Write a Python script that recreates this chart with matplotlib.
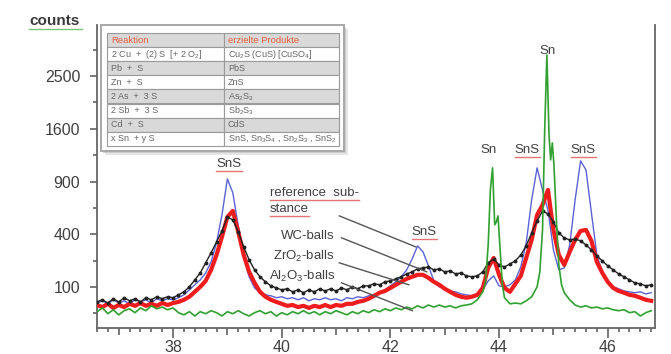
import numpy as np
import matplotlib
matplotlib.use("Agg")
import matplotlib.pyplot as plt
from matplotlib.patches import Rectangle
from matplotlib.ticker import FixedLocator

plt.rcParams['font.family'] = ['Liberation Sans', 'DejaVu Sans']
plt.rcParams['mathtext.default'] = 'regular'

# 2-theta scan grid (deg), shared by the three broad patterns
two_theta = np.round(np.arange(36.6, 46.85, 0.1), 2)

# counts (sqrt axis)
wc_balls = [51, 57, 48, 60,
            51, 63, 54, 60, 51, 63, 57, 66, 60, 66,
            63, 72, 82, 100, 128, 160, 212, 271, 344, 425,
            542, 516, 418, 309, 229, 175, 142, 120, 104, 96,
            89, 93, 82, 89, 79, 89, 82, 93, 85, 93,
            85, 96, 89, 100, 93, 104, 104, 112, 108, 120,
            124, 133, 142, 155, 165, 180, 185, 190, 175, 180,
            165, 170, 155, 160, 146, 142, 146, 165, 212, 234,
            201, 190, 206, 223, 258, 316, 410, 507, 596, 569,
            499, 410, 372, 358, 365, 351, 323, 290, 252, 223,
            196, 175, 155, 142, 128, 116, 112, 104, 108]

reference = [48, 54, 46, 57,
             48, 54, 46, 57, 51, 57, 48, 60, 54, 60,
             57, 63, 72, 89, 108, 128, 160, 217, 337, 560,
             930, 775, 465, 246, 142, 96, 79, 72, 69, 63,
             66, 60, 63, 57, 63, 54, 60, 57, 63, 57,
             60, 54, 63, 60, 66, 63, 69, 72, 79, 89,
             104, 120, 142, 175, 234, 316, 277, 196, 124, 100,
             93, 85, 82, 75, 72, 69, 75, 89, 124, 146,
             104, 100, 108, 128, 190, 337, 703, 1062, 807, 606,
             290, 175, 185, 323, 703, 1150, 1037, 578, 258, 165,
             120, 100, 93, 85, 82, 79, 82, 75, 79]

zro2_balls = [43, 38, 46, 36,
              43, 38, 46, 41, 48, 41, 46, 41, 48, 43,
              48, 51, 57, 66, 82, 100, 124, 175, 258, 380,
              542, 596, 418, 258, 165, 116, 82, 66, 57, 51,
              46, 41, 43, 38, 41, 36, 41, 38, 43, 38,
              43, 41, 46, 46, 51, 54, 60, 69, 79, 85,
              96, 108, 120, 133, 142, 151, 151, 137, 120, 108,
              93, 82, 72, 66, 63, 66, 72, 96, 185, 240,
              151, 96, 82, 112, 146, 240, 358, 560, 653, 807,
              433, 258, 201, 277, 358, 425, 433, 351, 217, 160,
              120, 96, 85, 79, 72, 69, 63, 57, 54]

# Al2O3 pattern has sharp Sn lines, so it gets its own finer grid near them
al2o3_theta = [36.6, 36.7, 36.8, 36.9,
               37.0, 37.1, 37.2, 37.3, 37.4, 37.5, 37.6, 37.7, 37.8, 37.9,
               38.0, 38.1, 38.2, 38.3, 38.4, 38.5, 38.6, 38.7, 38.8, 38.9,
               39.0, 39.1, 39.2, 39.3, 39.4, 39.5, 39.6, 39.7, 39.8, 39.9,
               40.0, 40.1, 40.2, 40.3, 40.4, 40.5, 40.6, 40.7, 40.8, 40.9,
               41.0, 41.1, 41.2, 41.3, 41.4, 41.5, 41.6, 41.7, 41.8, 41.9,
               42.0, 42.1, 42.2, 42.3, 42.4, 42.5, 42.6, 42.7, 42.8, 42.9,
               43.0, 43.1, 43.2, 43.3, 43.4, 43.5, 43.6, 43.7, 43.75, 43.8,
               43.84, 43.88, 43.92, 43.95, 43.98, 44.02, 44.06, 44.1, 44.2,
               44.3, 44.4, 44.5, 44.6, 44.7, 44.75, 44.8, 44.84, 44.88, 44.92,
               44.95, 44.98, 45.01, 45.06, 45.1, 45.15, 45.2, 45.3, 45.4, 45.5,
               45.6, 45.7, 45.8, 45.9, 46.0, 46.1, 46.2, 46.3, 46.4, 46.5,
               46.6, 46.7, 46.8]
al2o3_balls = [28, 36, 24, 32,
               22, 30, 34, 26, 36, 30, 41, 34, 38, 32,
               36, 26, 22, 28, 20, 28, 24, 30, 26, 20,
               28, 24, 30, 24, 20, 26, 30, 24, 28, 20,
               26, 22, 28, 24, 30, 24, 28, 22, 28, 24,
               30, 26, 22, 28, 24, 30, 26, 32, 28, 34,
               30, 36, 32, 38, 34, 41, 36, 43, 38, 43,
               38, 41, 36, 41, 43, 46, 57, 82, 116, 323,
               807, 1062, 474, 499, 551, 290, 108, 63, 46,
               48, 46, 54, 66, 100, 165, 433, 1583, 2918, 1500,
               1163, 1393, 1099, 474, 201, 108, 79, 57, 43, 38,
               41, 36, 38, 34, 36, 32, 30, 32, 26, 28,
               20, 26, 30]

y_major = [100, 400, 900, 1600, 2500]
y_minor = [25, 225, 625, 1225, 2025, 3025]
x_major = [37, 38, 39, 40, 41, 42, 43, 44, 45, 46]

reactions = ["2 Cu  +  (2) S  [+ 2 O$_2$]", "Pb  +  S", "Zn  +  S",
             "2 As  +  3 S", "2 Sb  +  3 S", "Cd  +  S", "x Sn  + y S"]
products = ["Cu$_2$S (CuS) [CuSO$_4$]", "PbS", "ZnS", "As$_2$S$_3$",
            "Sb$_2$S$_3$", "CdS", "SnS, Sn$_3$S$_4$ , Sn$_2$S$_3$ , SnS$_2$"]

W, H = 671, 354
fig = plt.figure(figsize=(W / 100, H / 100), dpi=100)
ax = fig.add_axes([97 / W, 1 - 328 / H, (655 - 97) / W, (328 - 25) / H])

ax.set_yscale('function', functions=(lambda v: np.sqrt(np.clip(v, 0, None)),
                                      lambda v: np.square(v)))

ax.plot(two_theta, reference, color='#5a62d6', lw=1.0, zorder=2)
ax.plot(two_theta, zro2_balls, color='#ee1c1c', lw=3.0, zorder=3)
ax.plot(two_theta, wc_balls, color='#222222', lw=1.0, marker='o', ms=1.8, zorder=4)
ax.plot(al2o3_theta, al2o3_balls, color='#30a030', lw=1.2, zorder=5)

ax.set_xlim(36.6, 46.87)
ax.set_ylim(4.8, 3565)

ax.yaxis.set_major_locator(FixedLocator(y_major))
ax.yaxis.set_minor_locator(FixedLocator(y_minor))
ax.set_yticklabels([str(v) for v in y_major])
ax.xaxis.set_major_locator(FixedLocator(x_major))
ax.xaxis.set_minor_locator(FixedLocator(np.round(np.arange(36.6, 46.9, 0.2), 1)))
ax.set_xticklabels([str(v) if v % 2 == 0 else '' for v in x_major])

ax.tick_params(which='both', direction='out', color='#555555', width=1.1,
               labelcolor='#404040', labelsize=11.5)
ax.tick_params(axis='y', which='major', length=5, pad=7)
ax.tick_params(axis='y', which='minor', length=3)
ax.tick_params(axis='x', which='major', length=7, pad=2)
ax.tick_params(axis='x', which='minor', length=3)
for t, v in zip(ax.xaxis.get_major_ticks(), x_major):
    if v % 2:
        t.tick1line.set_markersize(5)

for s in ['left', 'bottom', 'right']:
    ax.spines[s].set_color('#666666')
    ax.spines[s].set_linewidth(1.3)
ax.spines['top'].set_visible(False)

# peak and sample labels
lab = dict(fontsize=9.5, color='#404040')
underlined = []
underlined.append(ax.text(39.03, 1111, 'SnS', ha='center', va='center', **lab))
underlined.append(ax.text(42.62, 418, 'SnS', ha='center', va='center', **lab))
underlined.append(ax.text(44.52, 1296, 'SnS', ha='center', va='center', **lab))
underlined.append(ax.text(45.55, 1296, 'SnS', ha='center', va='center', **lab))
ax.text(43.81, 1296, 'Sn', ha='center', va='center', **lab)
ax.text(44.89, 3001, 'Sn', ha='center', va='center', **lab)
underlined.append(ax.text(39.78, 775, 'reference  sub-', ha='left', va='center', **lab))
underlined.append(ax.text(39.78, 615, 'stance', ha='left', va='center', **lab))
ax.text(40.97, 387, 'WC-balls', ha='right', va='center', **lab)
ax.text(40.97, 246, 'ZrO$_2$-balls', ha='right', va='center', **lab)
ax.text(40.99, 142, 'Al$_2$O$_3$-balls', ha='right', va='center', **lab)

# leader lines
for (xa, ya), (xb, yb) in [((41.06, 551), (42.47, 309)),
                           ((41.10, 373), (42.67, 165)),
                           ((41.06, 212), (42.34, 108)),
                           ((41.10, 116), (42.40, 30))]:
    ax.plot([xa, xb], [ya, yb], color='#555555', lw=1.0, zorder=6)

# pixel overlay for the table and the "counts" title
ov = fig.add_axes([0, 0, 1, 1], zorder=5)
ov.set_xlim(0, W)
ov.set_ylim(H, 0)
ov.axis('off')
ov.patch.set_alpha(0)

ov.add_patch(Rectangle((105, 29), 243, 126, fc='#d4d4d4', ec='none', alpha=0.6))
ov.add_patch(Rectangle((103, 27), 243, 126, fc='#c4c4c4', ec='none', alpha=0.7))
ov.add_patch(Rectangle((101, 25), 243, 126, fc='white', ec='#a8a8a8', lw=1.4))

tx0, tx1, txm, ty0, rh = 107, 339, 224, 33, 14.1
for r in range(8):
    fill = '#d9d9d9' if r % 2 == 0 else 'white'
    y = ty0 + r * rh
    ov.add_patch(Rectangle((tx0, y), txm - tx0, rh, fc=fill, ec='#9a9a9a', lw=0.8))
    ov.add_patch(Rectangle((txm, y), tx1 - txm, rh, fc=fill, ec='#9a9a9a', lw=0.8))
    if r == 0:
        ov.text(tx0 + 4, y + rh / 2, 'Reaktion', fontsize=6.8, color='#e8603c', va='center')
        ov.text(txm + 4, y + rh / 2, 'erzielte Produkte', fontsize=6.8, color='#e8603c', va='center')
    else:
        ov.text(tx0 + 4, y + rh / 2, reactions[r - 1], fontsize=6.5, color='#666666', va='center')
        ov.text(txm + 4, y + rh / 2, products[r - 1], fontsize=6.5, color='#666666', va='center')

ov.text(55, 21, 'counts', fontsize=11, fontweight='bold', color='#3a3a3a',
        ha='center', va='center')
ov.plot([29, 82], [29, 29], color='#7cc47c', lw=1.0)

fig.canvas.draw()
rend = fig.canvas.get_renderer()
for t in underlined:
    bb = t.get_window_extent(rend)
    ov.plot([bb.x0, bb.x1], [H - bb.y0 + 1, H - bb.y0 + 1], color='#e57373', lw=1.0)

fig.savefig('out.png', dpi=100)
